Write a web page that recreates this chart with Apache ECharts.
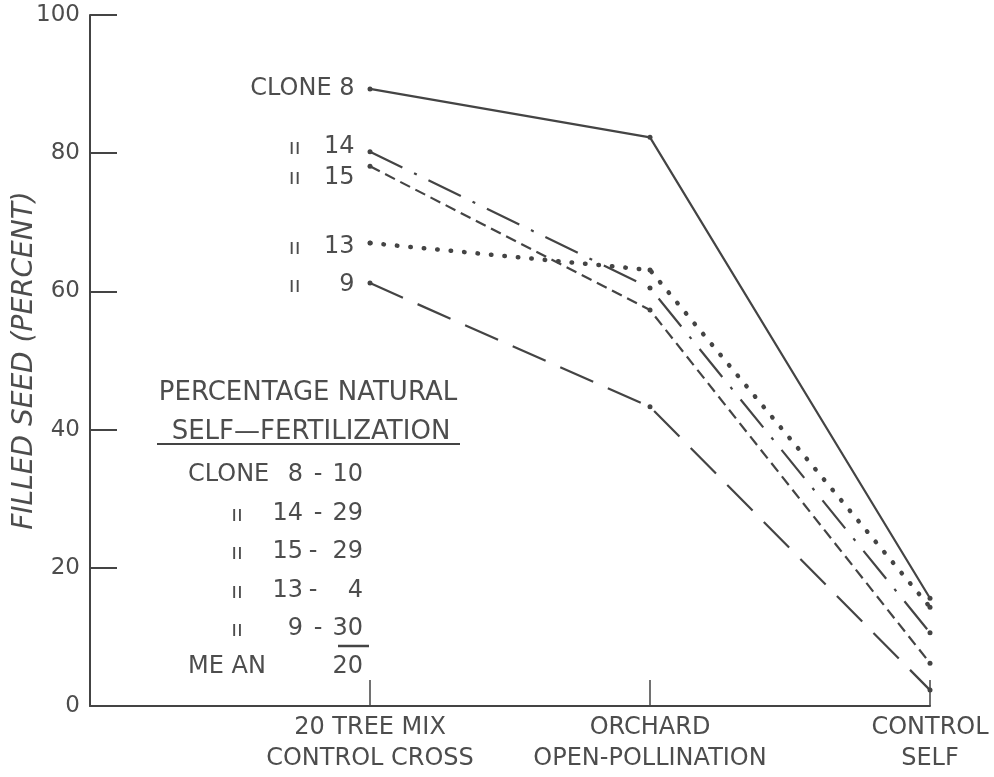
<!DOCTYPE html>
<html>
<head>
<meta charset="utf-8">
<script src="https://cdn.jsdelivr.net/npm/echarts@6/dist/echarts.min.js"></script>
<style>
html,body{margin:0;padding:0;background:#fff;}
#chart{width:994px;height:777px;}
</style>
</head>
<body>
<div id="chart"></div>
<script>
// ---- data ----
const categories = ['20 TREE MIX\nCONTROL CROSS', 'ORCHARD\nOPEN-POLLINATION', 'CONTROL\nSELF'];
const catX = [1, 2, 3];
const yTicks = [0, 20, 40, 60, 80, 100];
const clone8  = [89.3, 82.3, 15.6];
const clone14 = [80.2, 60.5, 10.6];
const clone15 = [78.1, 57.3, 6.2];
const clone13 = [67.0, 63.1, 14.3];
const clone9  = [61.2, 43.3, 2.3];
const cloneNames = ['8', '14', '15', '13', '9'];
const selfFert = ['10', '29', '29', '4', '30'];
const meanSelf = '20';

const INK = '#444';
const TXT = '#4d4d4d';
const FONT = '"DejaVu Sans", sans-serif';
const DITTO = '\u0131\u0131';

const seriesDefs = [
  { name: '8',  values: clone8,  dash: 'solid', width: 2.2, dy: 0, first: true },
  { name: '14', values: clone14, dash: [36, 13, 3, 13], width: 2.2, dy: -5 },
  { name: '15', values: clone15, dash: [11, 6], width: 2.2, dy: 11 },
  { name: '13', values: clone13, dash: [0.5, 13], width: 4.5, dy: 4, cap: 'round' },
  { name: '9',  values: clone9,  dash: [36, 16], width: 2.2, dy: 2 }
];

const series = seriesDefs.map(d => ({
  type: 'line',
  name: d.name,
  symbol: 'circle',
  symbolSize: 5,
  itemStyle: { color: INK },
  lineStyle: { color: INK, width: d.width, type: d.dash, cap: d.cap || 'butt' },
  silent: true,
  data: d.values.map((v, i) => i === 0 ? {
    value: [catX[i], v],
    label: {
      show: true,
      position: 'left',
      distance: 13,
      offset: [0, d.dy],
      color: TXT,
      fontFamily: FONT,
      fontSize: 24,
      formatter: d.first ? ('CLONE ' + d.name) : ('{d|' + DITTO + '}{n|' + d.name + '}'),
      rich: {
        d: { fontSize: 21, color: TXT, fontFamily: FONT, padding: [3, 0, 0, 0] },
        n: { fontSize: 24, color: TXT, fontFamily: FONT, width: 54, align: 'right' }
      }
    }
  } : [catX[i], v])
}));

// ---- table of natural self-fertilization ----
function txt(x, y, text, align, size) {
  return {
    type: 'text', x: x, y: y, silent: true,
    style: { text: text, fill: TXT, font: (size || 24) + 'px ' + FONT, textAlign: align || 'left', textVerticalAlign: 'middle' }
  };
}
const rowsY = [475, 514, 552, 591, 629];
const graphics = [
  txt(308, 393, 'PERCENTAGE NATURAL', 'center', 26),
  txt(311, 432, 'SELF\u2014FERTILIZATION', 'center', 26),
  { type: 'line', silent: true, shape: { x1: 157, y1: 444, x2: 460, y2: 444 }, style: { stroke: INK, lineWidth: 2 } },
  { type: 'line', silent: true, shape: { x1: 338, y1: 646, x2: 369, y2: 646 }, style: { stroke: INK, lineWidth: 2.5 } },
  txt(188, 475, 'CLONE', 'left'),
  txt(188, 667, 'ME AN', 'left'),
  txt(363, 667, meanSelf, 'right')
];
cloneNames.forEach((c, i) => {
  if (i > 0) graphics.push(txt(237, rowsY[i] + 2, DITTO, 'center', 21));
  graphics.push(txt(303, rowsY[i], c, 'right'));
  graphics.push(txt(i === 0 || i === 1 || i === 4 ? 318 : 313, rowsY[i], '-', 'center'));
  graphics.push(txt(363, rowsY[i], selfFert[i], 'right'));
});

const chart = echarts.init(document.getElementById('chart'));
chart.setOption({
  animation: false,
  backgroundColor: '#fff',
  grid: { left: 90, right: 64, top: 15, bottom: 71, containLabel: false, outerBoundsMode: 'none' },
  xAxis: {
    type: 'value', min: 0, max: 3, interval: 1,
    axisLine: { show: true, lineStyle: { color: INK, width: 2 } },
    axisTick: { show: true, inside: true, length: 26, lineStyle: { color: INK, width: 1.5 } },
    splitLine: { show: false },
    axisLabel: {
      show: true, margin: 6, color: TXT, fontFamily: FONT, fontSize: 24, lineHeight: 31,
      showMinLabel: true, showMaxLabel: true,
      formatter: v => (v >= 1 && v <= 3) ? categories[v - 1] : ''
    }
  },
  yAxis: {
    type: 'value', min: yTicks[0], max: yTicks[yTicks.length - 1], interval: 20,
    name: 'FILLED SEED (PERCENT)', nameLocation: 'middle', nameGap: 51, nameMoveOverlap: false,
    nameTextStyle: { color: TXT, fontFamily: FONT, fontSize: 28, fontStyle: 'italic' },
    axisLine: { show: true, lineStyle: { color: INK, width: 2 } },
    axisTick: { show: true, inside: true, length: 27, lineStyle: { color: INK, width: 2 } },
    splitLine: { show: false },
    axisLabel: { margin: 10, color: TXT, fontFamily: FONT, fontSize: 23 }
  },
  graphic: graphics,
  series: series
});
</script>
</body>
</html>
